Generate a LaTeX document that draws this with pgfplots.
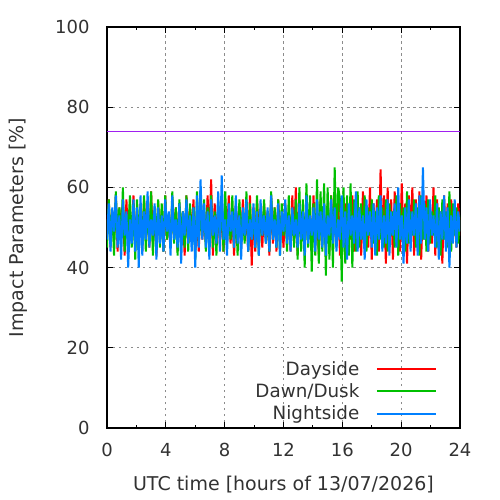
\documentclass[border=0pt]{standalone}
\usepackage{fontspec}
\setmainfont{DejaVu Sans}
\usepackage{pgfplots}
\pgfplotsset{compat=1.18}
\usepackage{pgfplotstable}
\definecolor{cday}{RGB}{255,0,0}
\definecolor{cdawn}{RGB}{0,192,0}
\definecolor{cnight}{RGB}{0,128,255}
\definecolor{cpurple}{RGB}{160,32,240}
\definecolor{ctext}{RGB}{50,50,50}
\pgfplotsset{legend image code/.code={\path (0bp,0bp); \draw[#1, line width=2bp] (15bp,0bp) -- (74bp,0bp);}}
\pgfplotstableread{
t r g b
0.00 48 45 47
0.12 57 57 56
0.24 45 48 44
0.36 54 54 55
0.48 47 43 49
0.60 58 59 58
0.72 44 47 45
0.84 55 55 53
0.96 49 46 42
1.08 56 60 57
1.20 43 44 48
1.32 57 53 54
1.44 46 49 40
1.56 53 58 52
1.68 48 45 46
1.80 58 56 57
1.92 45 42 44
2.04 54 57 55
2.16 47 48 40
2.28 56 54 58
2.40 44 46 43
2.52 57 58 54
2.64 48 44 47
2.76 53 55 59
2.88 45 47 45
3.00 59 59 52
3.12 46 43 48
3.24 55 54 56
3.36 43 48 42
3.48 56 57 55
3.60 48 45 46
3.72 54 56 53
3.84 44 44 44
3.96 58 58 57
4.08 47 47 49
4.20 53 53 54
4.32 45 45 43
4.44 57 59 58
4.56 48 46 47
4.68 55 55 52
4.80 44 43 45
4.92 56 57 56
5.04 47 48 41
5.16 54 54 54
5.28 43 45 48
5.40 58 58 57
5.52 46 44 46
5.64 55 56 53
5.76 48 47 44
5.88 57 55 55
6.00 45 42 40
6.12 53 59 58
6.24 44 46 45
6.36 59 54 62
6.48 47 48 47
6.60 54 57 56
6.72 46 44 45
6.84 58 55 54
6.96 45 47 42
7.08 62 58 57
7.20 43 45 48
7.32 56 54 53
7.44 48 43 46
7.56 54 57 59
7.68 45 48 44
7.80 57 56 63
7.92 44 44 47
8.04 55 59 52
8.16 47 46 43
8.28 58 53 56
8.40 46 47 49
8.52 53 58 54
8.64 43 45 45
8.76 56 55 58
8.88 48 43 46
9.00 55 57 53
9.12 45 48 42
9.24 57 54 55
9.36 47 46 48
9.48 54 59 57
9.60 44 44 44
9.72 58 56 52
9.84 40.5 47 47
9.96 55 53 56
10.08 44 45 45
10.20 57 58 54
10.32 48 43 43
10.44 53 55 57
10.56 45 48 48
10.68 56 57 53
10.80 47 46 46
10.92 54 54 55
11.04 43 44 44
11.16 58 59 58
11.28 46 47 47
11.40 55 55 52
11.52 44 45 45
11.64 57 57 56
11.76 48 43 43
11.88 53 56 54
12.00 45 48 49
12.12 56 55 57
12.24 47 44 46
12.36 54 58 53
12.48 44 46 44
12.60 58 54 55
12.72 46 45 48
12.84 60 57 52
12.96 43 42 45
13.08 57 60 56
13.20 48 44 47
13.32 54 57 54
13.44 45 40 43
13.56 56 61 58
13.68 47 45 46
13.80 53 58 53
13.92 44 39 48
14.04 58 56 55
14.16 46 43 44
14.28 55 62 57
14.40 43 41 47
14.52 57 59 54
14.64 48 44 45
14.76 54 61 56
14.88 45 38 43
15.00 56 60 53
15.12 44 42 48
15.24 58 58 57
15.36 47 40 46
15.48 53 65 55
15.60 46 45 44
15.72 57 60 52
15.84 43 57 47
15.96 55 36.5 58
16.08 48 60 45
16.20 56 41 54
16.32 45 58 42
16.44 54 43 56
16.56 47 61 48
16.68 58 40 53
16.80 44 57 46
16.92 56 44 59
17.04 46 59 44
17.16 55 45 55
17.28 43 56 47
17.40 59 47 53
17.52 47 58 42
17.64 54 44 57
17.76 45 55 48
17.88 60 48 54
18.00 42 57 45
18.12 56 46 56
18.24 48 54 43
18.36 57 43 55
18.48 44 58 47
18.60 64.5 47 58
18.72 46 55 44
18.84 58 45 53
18.96 41 57 46
19.08 60 44 57
19.20 45 56 43
19.32 57 48 54
19.44 42 54 48
19.56 59 45 56
19.68 47 58 45
19.80 55 43 60
19.92 44 56 47
20.04 61 47 53
20.16 46 55 41
20.28 56 44 55
20.40 41 59 46
20.52 58 46 57
20.64 48 54 44
20.76 60 48 54
20.88 43 57 48
21.00 57 45 56
21.12 46 55 43
21.24 59 43 58
21.36 42 58 46
21.48 56 47 65
21.60 47 56 47
21.72 58 44 55
21.84 44 57 44
21.96 55 46 57
22.08 46 54 48
22.20 60 48 53
22.32 43 58 45
22.44 57 45 56
22.56 48 55 42
22.68 54 43 54
22.80 41 57 47
22.92 58 47 58
23.04 46 54 44
23.16 56 45 55
23.28 44 59 40
23.40 57 44 53
23.52 47 56 46
23.64 55 48 57
23.76 45 55 45
23.88 56 46 54
24.00 48 53 49
}\datatable
\begin{document}
\begin{tikzpicture}[font=\fontsize{18bp}{22bp}\selectfont]
\begin{axis}[
  at={(0,0)}, anchor=south west,
  scale only axis, width=353bp, height=401bp,
  xmin=0, xmax=24, ymin=0, ymax=100,
  xtick={0,4,...,24}, ytick={0,20,...,100},
  minor x tick num=1,
  tick align=inside,
  major tick length=6bp, minor tick length=3.5bp,
  every tick/.style={black, line width=0.9bp},
  axis line style={black, line width=1.2bp},
  grid=major,
  grid style={black!45, line width=0.8bp, dash pattern=on 2.5bp off 3.5bp},
  /pgf/number format/assume math mode=true,
  ticklabel style={text=ctext},
  xticklabel style={anchor=north, yshift=-12bp},
  yticklabel style={anchor=east, xshift=-14bp},
  xlabel={UTC time [hours of 13/07/2026]},
  ylabel={Impact Parameters [\%]},
  label style={text=ctext, font=\fontsize{19bp}{23bp}\selectfont},
  xlabel style={at={(axis description cs:0.5,-0.14)}, anchor=center},
  ylabel style={at={(axis description cs:-0.25,0.5)}, anchor=center},
  legend plot pos=right,
  legend cell align=right,
  legend style={draw=none, fill=none, text=ctext,
    font=\fontsize{18.3bp}{22bp}\selectfont,
    at={(rel axis cs:0.935,0.012)}, anchor=south east,
    row sep=4bp, inner sep=0bp,
    nodes={inner sep=1.5bp}},
]
\addplot[cpurple, line width=1bp, forget plot] coordinates {(0,74) (24,74)};
\addplot[cday, line width=2bp, line join=bevel] table[x=t, y=r] {\datatable};
\addlegendentry{Dayside}
\addplot[cdawn, line width=2bp, line join=bevel] table[x=t, y=g] {\datatable};
\addlegendentry{Dawn/Dusk}
\addplot[cnight, line width=2bp, line join=bevel] table[x=t, y=b] {\datatable};
\addlegendentry{Nightside}
\end{axis}
\path (-107bp,-72bp) rectangle (393bp,428bp);
\end{tikzpicture}
\end{document}
